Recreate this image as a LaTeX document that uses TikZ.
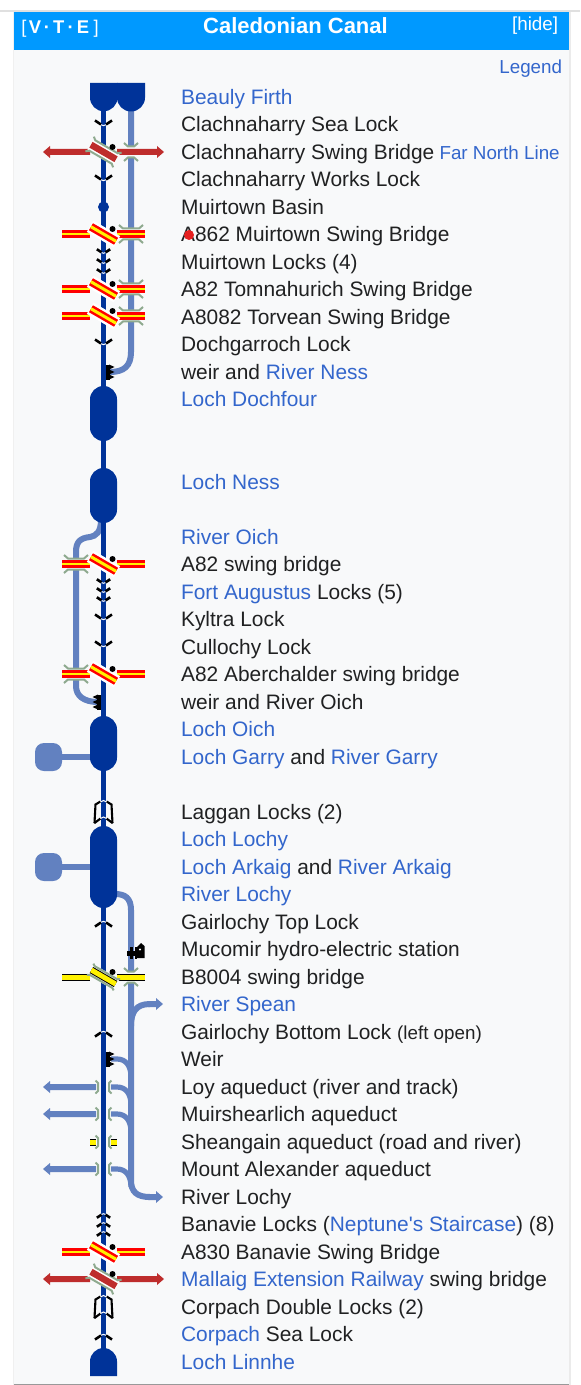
\documentclass[tikz,border=0pt]{standalone}
\usepackage{fontspec}
\setmainfont{Liberation Sans}
\definecolor{cdark}{HTML}{003399}
\definecolor{clight}{HTML}{6281C0}
\definecolor{crail}{HTML}{BE2D2C}
\definecolor{cgreen}{HTML}{8FAA8F}
\definecolor{cpanel}{HTML}{F8F9FA}
\definecolor{chead}{HTML}{0099FF}
\definecolor{clink}{HTML}{3366CC}
\definecolor{ctext}{HTML}{202122}
\definecolor{cdot}{HTML}{E62020}
\newcommand{\lk}[1]{\textcolor{clink}{#1}}
\newcommand{\rowlabel}[3]{\node[rowtext] (#1) at (180.7,#2+7.7) {#3};}
% chevrons
\newcommand{\lockv}[2][1]{\begin{scope}[shift={(103.5,#2)},scale=#1]
  \draw[chev] (-8.5,-3.5) -- (-2.5,0.5); \draw[chev] (8.5,-3.5) -- (2.5,0.5);
  \draw[line width=.5pt,white] (-2.4,0.8) -- (0,1.6) -- (2.4,0.8);
\end{scope}}
\newcommand{\lockn}[2][1]{\begin{scope}[shift={(103.5,#2)},scale=#1]
  \draw[chev] (-8.5,3.5) -- (-2.5,-0.5); \draw[chev] (8.5,3.5) -- (2.5,-0.5);
  \draw[line width=.5pt,white] (-2.4,-0.8) -- (0,-1.6) -- (2.4,-0.8);
\end{scope}}
\newcommand{\dbllock}[1]{\begin{scope}[shift={(103.5,#1)}]
  \draw[chev,line width=1.05pt,miter limit=2] (-3,-10.5) -- (-8,-7.5) -- (-9,11) -- (-3,6.5);
  \draw[chev,line width=1.05pt,miter limit=2] (3,-10.5) -- (8,-7.5) -- (9,11) -- (3,6.5);
  \draw[line width=.5pt,white] (-3,-10) -- (0,-11.5) -- (3,-10);
  \draw[line width=.5pt,white] (-3,6.5) -- (0,5) -- (3,6.5);
\end{scope}}
% brackets under a crossing road, centred on a light canal
\newcommand{\brk}[3]{\fill[cpanel] (#1-#3+3,#2-5) rectangle (#1+#3-3,#2+5);
  \draw[bracket] (#1-#3,#2-9) -- (#1-#3+4,#2-5.5) -- (#1+#3-4,#2-5.5) -- (#1+#3,#2-9);
  \draw[bracket] (#1-#3,#2+9) -- (#1-#3+4,#2+5.5) -- (#1+#3-4,#2+5.5) -- (#1+#3,#2+9);}
\newcommand{\roadA}[3]{\draw[roadred] (#1,#3) -- (#2,#3); \draw[roadyel] (#1,#3) -- (#2,#3);}
\newcommand{\roadY}[3]{\draw[yelblack] (#1,#3) -- (#2,#3); \draw[yelfill] (#1,#3) -- (#2,#3);}
\newcommand{\diagR}[1]{\begin{scope}[shift={(103.5,#1)},rotate=-30]
  \fill[white] (-15.5,-6.5) rectangle (15.5,6.5);
  \draw[roadred,line width=4pt] (-14.5,0) -- (14.5,0); \draw[roadyel,line width=1.5pt] (-14.5,0) -- (14.5,0);
\end{scope}\fill[black] (112.5,#1-5) circle (3);}
\newcommand{\diagT}[1]{\begin{scope}[shift={(103.5,#1)},rotate=-30]
  \fill[white] (-15,-6.5) rectangle (15,6.5);
  \draw[bracket] (-16,-8.5) -- (-13,-6) -- (13,-6) -- (16,-8.5);
  \draw[bracket] (-16,8.5) -- (-13,6) -- (13,6) -- (16,8.5);
  \draw[railline] (-14.5,0) -- (14.5,0);
\end{scope}\fill[black] (112.5,#1-5) circle (3);}
\newcommand{\diagY}[1]{\begin{scope}[shift={(103.5,#1)},rotate=-30]
  \fill[white] (-15,-6) rectangle (15,6);
  \draw[bracket] (-15.5,-6.5) -- (-13,-5) -- (13,-5) -- (15.5,-6.5);
  \draw[bracket] (-15.5,6.5) -- (-13,5) -- (13,5) -- (15.5,6.5);
  \draw[yelblack] (-14,0) -- (14,0); \draw[yelfill] (-14,0) -- (14,0);
\end{scope}\fill[black] (112.5,#1-5) circle (3);}
% horizontal arrow: tip, start, y, colour, half shaft width
\newcommand{\harrow}[5]{\fill[#4] (#2,#3-#5) -- ({#1+(#2-#1)/abs(#2-#1)*7},#3-#5) -- ({#1+(#2-#1)/abs(#2-#1)*7},#3-6) -- (#1,#3) -- ({#1+(#2-#1)/abs(#2-#1)*7},#3+6) -- ({#1+(#2-#1)/abs(#2-#1)*7},#3+#5) -- (#2,#3+#5) -- cycle;}
\newcommand{\pill}[2]{\fill[cdark,rounded corners=6.7pt] (90,#1) rectangle (117,#2);}
\newcommand{\blob}[1]{\fill[clight,rounded corners=4.5pt] (35,#1-14) rectangle (62,#1+14);}
\newcommand{\weirR}[1]{\fill[black] (106,#1-7.5) rectangle (110,#1+7.5);
  \fill[black] (109,#1-7.5) -- (114.5,#1-5) -- (109,#1-2.5) -- (114.5,#1) -- (109,#1+2.5) -- (114.5,#1+5) -- (109,#1+7.5) -- cycle;}
\newcommand{\weirL}[1]{\fill[black] (101,#1-7.5) rectangle (97,#1+7.5);
  \fill[black] (98,#1-7.5) -- (92.5,#1-5) -- (98,#1-2.5) -- (92.5,#1) -- (98,#1+2.5) -- (92.5,#1+5) -- (98,#1+7.5) -- cycle;}
\newcommand{\parens}[1]{\draw[bracket] (95.5,#1-6.5) -- (98,#1-4) -- (98,#1+4) -- (95.5,#1+6.5);
  \draw[bracket] (111.5,#1-6.5) -- (109,#1-4) -- (109,#1+4) -- (111.5,#1+6.5);}
\newcommand{\branch}[1]{\draw[lightline,line width=2.6pt] (111,#1) -- (117,#1) .. controls (126,#1) and (131,#1+7) .. (131,#1+18);}
\tikzset{
  rowtext/.style={anchor=base west,inner sep=0pt,font=\fontsize{10.45pt}{12pt}\selectfont,text=ctext},
  darkline/.style={line width=2.75pt,cdark},
  lightline/.style={line width=3pt,clight},
  chev/.style={line width=1.3pt,black},
  bracket/.style={line width=1pt,cgreen},
  roadred/.style={line width=3.6pt,red},
  roadyel/.style={line width=1.3pt,yellow},
  yelblack/.style={line width=3.5pt,black},
  yelfill/.style={line width=2.5pt,yellow},
  railline/.style={line width=3.3pt,crail},
}
\begin{document}
\begin{tikzpicture}[x=.5pt,y=-.5pt]
\useasboundingbox (0,0) rectangle (580,1385);
\fill[white] (0,0) rectangle (580,1385);
\fill[black!12] (0,10) rectangle (580,12);
\fill[black!6] (12.5,12) rectangle (14,1385);
\fill[black!8] (569,12) rectangle (571,1385);
\fill[cpanel] (14,12) rectangle (569,1385);
\fill[black!40] (14,1383.8) rectangle (569,1385);
\fill[chead] (14,12) rectangle (569,50);
\node[anchor=base west,inner sep=0pt,text=white,font=\fontsize{9.2pt}{11pt}\selectfont] (vte) at (21,33.5)
  {[\hspace{1.2pt}\textbf{V}\hspace{1.3pt}\textbf{·}\hspace{1.6pt}\textbf{T}\hspace{1.6pt}\textbf{·}\hspace{1.6pt}\textbf{E}\hspace{2.2pt}]};
\node[anchor=base,inner sep=0pt,text=white,font=\fontsize{11pt}{13pt}\selectfont\bfseries] (title) at (295.5,33.5) {Caledonian Canal};
\node[anchor=base east,inner sep=0pt,text=white,font=\fontsize{9.4pt}{11pt}\selectfont] (hide) at (558.5,30.5) {[hide]};
\node[anchor=base east,inner sep=0pt,text=clink,font=\fontsize{9.4pt}{11pt}\selectfont] (legend) at (562.5,74) {Legend};
% light canals
\draw[lightline] (131,105) -- (131,352) .. controls (131,366) and (124,372) .. (110,372);
\draw[lightline] (101,520) .. controls (101,532) and (96,536) .. (90,537) .. controls (80,538) and (76,542) .. (76,552) -- (76,686) .. controls (76,696) and (84,702) .. (98,702);
\draw[lightline] (115,894) .. controls (125,894) and (131,898) .. (131,910) -- (131,1180) .. controls (131,1192) and (137,1197) .. (150,1197);
\draw[lightline] (131,1026) .. controls (131,1012) and (136,1004) .. (150,1004);
\harrow{163}{148}{1004}{clight}{3}
\harrow{163}{148}{1197}{clight}{3}
\draw[lightline] (62,757) -- (92,757);
\draw[lightline] (62,867) -- (92,867);
\blob{757}
\blob{867}
% main canal
\draw[darkline] (103.5,100) -- (103.5,1360);
\fill[cdark] (90,83) -- (117.5,83) -- (117.5,97.5) arc[start angle=0,end angle=180,radius=13.75] -- cycle;
\fill[cdark] (117,83) -- (145,83) -- (145,97.5) arc[start angle=0,end angle=180,radius=14] -- cycle;
\fill[cdark] (103.5,207) circle (5.5);
\pill{386}{441}
\pill{468}{523}
\pill{716}{771}
\pill{826}{908}
\fill[cdark] (90,1376) -- (90,1361.5) arc[start angle=180,end angle=360,radius=13.5] -- (117,1376) -- cycle;
% locks
\lockv{124}
\lockv{179}
\lockv[.78]{252}
\lockv[.78]{262}
\lockv[.78]{272}
\lockv{343}
\lockv[.78]{582}
\lockv[.78]{591}
\lockv[.78]{600}
\lockv{618}
\lockv{645}
\dbllock{812}
\lockn{923}
\lockn{1033}
\lockn[.78]{1215}
\lockn[.78]{1224}
\lockn[.78]{1233}
\dbllock{1307}
\lockn{1336}
% weirs
\weirR{372}
\weirL{702}
% crossings on the upper stretch
\brk{131}{152}{7}
\harrow{43}{90}{152}{crail}{3}
\harrow{164}{117}{152}{crail}{3}
\diagT{152}
\brk{131}{234}{12}
\roadA{62}{90}{234}\roadA{117}{145}{234}
\diagR{234}
\brk{131}{289}{12}
\roadA{62}{90}{289}\roadA{117}{145}{289}
\diagR{289}
\brk{131}{316}{12}
\roadA{62}{90}{316}\roadA{117}{145}{316}
\diagR{316}
\brk{76}{564}{12}
\roadA{62}{90}{564}\roadA{117}{145}{564}
\diagR{564}
\brk{76}{674}{12}
\roadA{62}{90}{674}\roadA{117}{145}{674}
\diagR{674}
% Mucomir station
\fill[black] (127,950.5) rectangle (137,955.5);
\fill[black] (130,947) rectangle (132.5,959);
\fill[black] (134.5,947) rectangle (137,959);
\fill[black] (137,958) -- (137,947) -- (141,943) -- (144.5,946) -- (144.5,958) -- cycle;
\fill[white] (140,949.5) circle (1.1);
% B8004
\brk{131}{977}{7}
\roadY{62}{90}{977}\roadY{117}{145}{977}
\diagY{977}
% aqueducts
\branch{1059}
\branch{1087}
\branch{1114}
\branch{1169}
\weirR{1059}
\harrow{43}{96}{1087}{clight}{3}
\harrow{43}{96}{1114}{clight}{3}
\harrow{43}{96}{1169}{clight}{3}
\roadY{90}{96}{1142}\roadY{111}{117}{1142}
\parens{1087}
\parens{1114}
\parens{1142}
\parens{1169}
% lower crossings
\roadA{62}{90}{1252}\roadA{117}{145}{1252}
\diagR{1252}
\harrow{43}{90}{1279}{crail}{3}
\harrow{164}{117}{1279}{crail}{3}
\diagT{1279}
% labels
\rowlabel{r01}{97}{\lk{Beauly Firth}}
\rowlabel{r02}{124}{Clachnaharry Sea Lock}
\rowlabel{r03}{152}{Clachnaharry Swing Bridge\hspace{2.6pt}\lk{\fontsize{9.4pt}{11pt}\selectfont Far North Line}}
\rowlabel{r04}{179}{Clachnaharry Works Lock}
\rowlabel{r05}{207}{Muirtown Basin}
\rowlabel{r06}{234}{A862 Muirtown Swing Bridge}
\rowlabel{r07}{262}{Muirtown Locks (4)}
\rowlabel{r08}{289}{A82 Tomnahurich Swing Bridge}
\rowlabel{r09}{316.5}{A8082 Torvean Swing Bridge}
\rowlabel{r10}{344}{Dochgarroch Lock}
\rowlabel{r11}{371.5}{weir and \lk{River Ness}}
\rowlabel{r12}{399}{\lk{Loch Dochfour}}
\rowlabel{r13}{482}{\lk{Loch Ness}}
\rowlabel{r14}{537}{\lk{River Oich}}
\rowlabel{r15}{564}{A82 swing bridge}
\rowlabel{r16}{592}{\lk{Fort Augustus} Locks (5)}
\rowlabel{r17}{619}{Kyltra Lock}
\rowlabel{r18}{647}{Cullochy Lock}
\rowlabel{r19}{674}{A82 Aberchalder swing bridge}
\rowlabel{r20}{702}{weir and River Oich}
\rowlabel{r21}{729}{\lk{Loch Oich}}
\rowlabel{r22}{757}{\lk{Loch Garry} and \lk{River Garry}}
\rowlabel{r23}{812}{Laggan Locks (2)}
\rowlabel{r24}{839}{\lk{Loch Lochy}}
\rowlabel{r25}{867}{\lk{Loch Arkaig} and \lk{River Arkaig}}
\rowlabel{r26}{894}{\lk{River Lochy}}
\rowlabel{r27}{922}{Gairlochy Top Lock}
\rowlabel{r28}{949}{Mucomir hydro-electric station}
\rowlabel{r29}{977}{B8004 swing bridge}
\rowlabel{r30}{1004}{\lk{River Spean}}
\rowlabel{r31}{1032}{Gairlochy Bottom Lock {\fontsize{9.4pt}{10pt}\selectfont (left open)}}
\rowlabel{r32}{1059}{Weir}
\rowlabel{r33}{1087}{Loy aqueduct (river and track)}
\rowlabel{r34}{1114}{Muirshearlich aqueduct}
\rowlabel{r35}{1142}{Sheangain aqueduct (road and river)}
\rowlabel{r36}{1169}{Mount Alexander aqueduct}
\rowlabel{r37}{1197}{River Lochy}
\rowlabel{r38}{1224}{Banavie Locks (\lk{Neptune\textquotesingle s Staircase}) (8)}
\rowlabel{r39}{1252}{A830 Banavie Swing Bridge}
\rowlabel{r40}{1279}{\lk{Mallaig Extension Railway} swing bridge}
\rowlabel{r41}{1307}{Corpach Double Locks (2)}
\rowlabel{r42}{1334}{\lk{Corpach} Sea Lock}
\rowlabel{r43}{1362}{\lk{Loch Linnhe}}
\fill[cdot] (189,235) circle (5);
\end{tikzpicture}
\end{document}
